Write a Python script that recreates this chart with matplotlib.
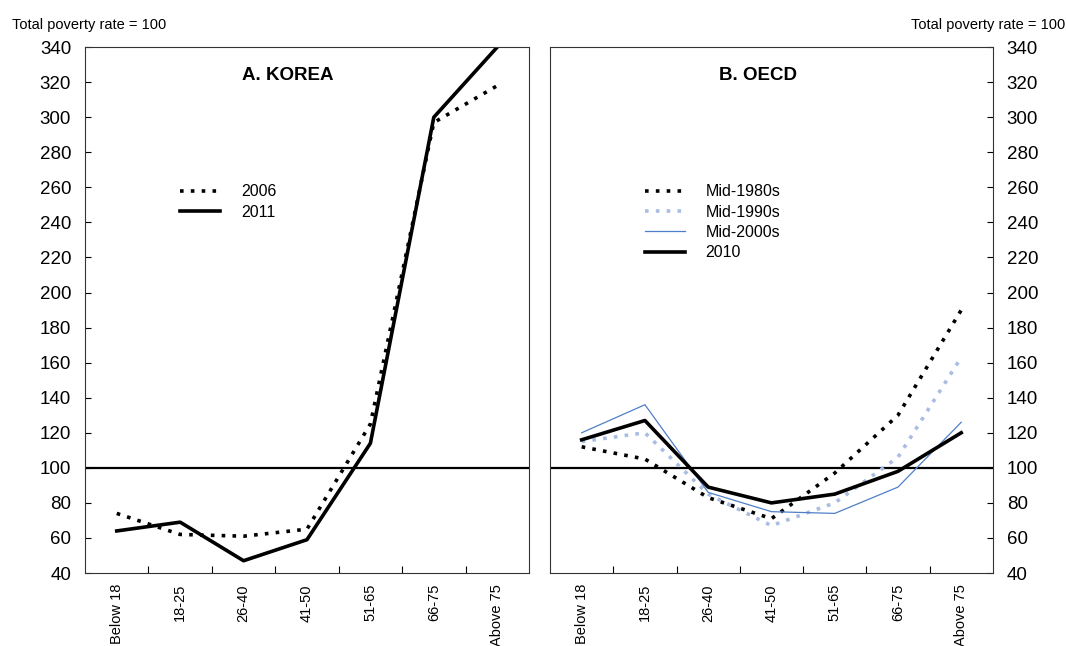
import numpy as np
import matplotlib
matplotlib.use("Agg")
from matplotlib import pyplot as plt

plt.rcParams['font.family'] = ['Liberation Sans', 'DejaVu Sans']

ages = ['Below 18', '18-25', '26-40', '41-50', '51-65', '66-75', 'Above 75']

korea_2006 = [74, 62, 61, 65, 125, 297, 318]
korea_2011 = [64, 69, 47, 59, 114, 300, 340]

oecd_1980s = [112, 105, 83, 71, 97, 130, 190]
oecd_1990s = [115, 120, 85, 67, 80, 106, 163]
oecd_2000s = [120, 136, 86, 75, 74, 89, 126]
oecd_2010 = [116, 127, 89, 80, 85, 98, 120]

x = np.arange(len(ages))

fig = plt.figure(figsize=(10.67, 6.46), dpi=100)
ax1 = fig.add_axes([0.0797, 0.113, 0.416, 0.814])
ax2 = fig.add_axes([0.5155, 0.113, 0.415, 0.814])

dot = (0, (1, 2))

def style(ax, side):
	ax.set_xlim(-0.5, 6.5)
	ax.set_ylim(40, 340)
	ax.set_yticks(np.arange(40, 341, 20))
	ax.axhline(100, color='black', lw=1.6, zorder=1)
	ax.set_xticks(x)
	ax.set_xticklabels(ages, rotation=90, fontsize=10.5)
	ax.set_xticks(np.arange(0.5, 6, 1), minor=True)
	ax.tick_params(axis='x', which='major', length=0, pad=8)
	ax.tick_params(axis='x', which='minor', direction='in', length=5, width=0.8)
	ax.tick_params(axis='y', direction='in', length=4, width=0.8, labelsize=13.5, pad=10)
	if side == 'right':
		ax.yaxis.tick_right()
		ax.yaxis.set_label_position('right')
	for s in ax.spines.values():
		s.set_linewidth(0.8)
		s.set_color('#333333')

style(ax1, 'left')
style(ax2, 'right')

leg_kw = dict(loc='upper left', bbox_to_anchor=(0.2, 0.751), frameon=False, fontsize=11.5,
	handlelength=2.5, handletextpad=1.3, labelspacing=0.33, borderaxespad=0)

ax1.plot(x, korea_2006, color='black', lw=2.6, linestyle=dot, label='2006')
ax1.plot(x, korea_2011, color='black', lw=2.6, label='2011')
ax1.text(2.7, 324, 'A. KOREA', fontsize=13.5, fontweight='bold', ha='center', va='center')
ax1.legend(**leg_kw)

ax2.plot(x, oecd_1980s, color='black', lw=2.6, linestyle=dot, label='Mid-1980s')
ax2.plot(x, oecd_1990s, color='#A9BCE2', lw=2.6, linestyle=dot, label='Mid-1990s')
ax2.plot(x, oecd_2000s, color='#4F7FC8', lw=0.9, label='Mid-2000s')
ax2.plot(x, oecd_2010, color='black', lw=2.6, label='2010')
ax2.text(2.79, 324, 'B. OECD', fontsize=13.5, fontweight='bold', ha='center', va='center')
ax2.legend(**leg_kw)

fig.text(0.011, 0.951, 'Total poverty rate = 100', fontsize=10.5, ha='left', va='bottom')
fig.text(0.998, 0.951, 'Total poverty rate = 100', fontsize=10.5, ha='right', va='bottom')

fig.savefig('out.png', dpi=100)
